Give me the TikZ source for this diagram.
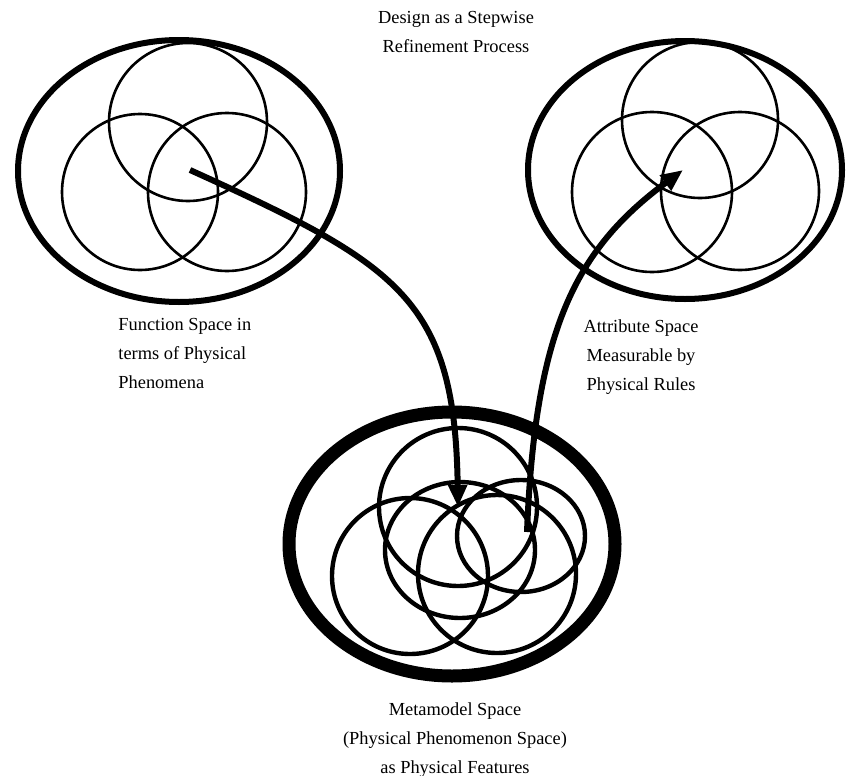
\documentclass[tikz,border=0pt]{standalone}
\usepackage{fontspec}
\setmainfont{Liberation Serif}
\usetikzlibrary{arrows.meta,shapes.geometric}

\begin{document}
\begin{tikzpicture}[x=0.5pt, y=-0.5pt,
    region/.style={ellipse, draw, line width=3pt, inner sep=0pt},
    ring/.style={circle, draw, line width=1.3pt, inner sep=0pt},
    mring/.style={circle, draw, line width=2.2pt, inner sep=0pt},
    moval/.style={ellipse, draw, line width=2.2pt, inner sep=0pt},
    txt/.style={font=\fontsize{9.2}{14.5}\selectfont, inner sep=0pt},
    flow/.style={line width=3pt, -{Triangle[length=11pt, width=9pt]}}]
    \useasboundingbox (0,0) rectangle (846,776);

    % Function space
    \node[region, minimum width=161pt, minimum height=131pt] (fspace) at (179,171) {};
    \node[ring, minimum size=79pt] (f1) at (188,122) {};
    \node[ring, minimum size=78pt] (f2) at (140,192) {};
    \node[ring, minimum size=79pt] (f3) at (227,192) {};

    % Attribute space
    \node[region, minimum width=157pt, minimum height=129pt] (aspace) at (685,170) {};
    \node[ring, minimum size=78pt] (a1) at (700,120) {};
    \node[ring, minimum size=80pt] (a2) at (652,192) {};
    \node[ring, minimum size=79pt] (a3) at (740,191) {};

    % Metamodel space
    \node[region, line width=6.5pt, minimum width=163pt, minimum height=132pt] (mspace) at (452,544) {};
    \node[mring, minimum size=79pt] (m1) at (458,507) {};
    \node[mring, minimum size=78pt] (m2) at (410,576) {};
    \node[mring, minimum size=79pt] (m3) at (497,574) {};
    \node[moval, minimum width=75pt, minimum height=68pt] (m4) at (460,550) {};
    \node[moval, minimum width=64pt, minimum height=56pt] (m5) at (521,536) {};

    % Labels
    \node[txt, align=center] (title) at (456,32) {Design as a Stepwise\\Refinement Process};
    \node[txt, align=left, anchor=west] (flabel) at (118,353) {Function Space in\\terms of Physical\\Phenomena};
    \node[txt, align=center] (alabel) at (641,357) {Attribute Space\\Measurable by\\Physical Rules};
    \node[txt, align=center] (mlabel) at (455,740) {Metamodel Space\\(Physical Phenomenon Space)\\as Physical Features};

    % Refinement arrows
    \coordinate (fsrc) at (190,170);
    \coordinate (msrc) at (527,532);
    \coordinate (atgt) at (683,170);
    \draw[flow] (fsrc) .. controls (400,265) and (455,300) .. (m1.center);
    \draw[flow] (msrc) .. controls (535,330) and (575,250) .. (atgt);
\end{tikzpicture}
\end{document}
